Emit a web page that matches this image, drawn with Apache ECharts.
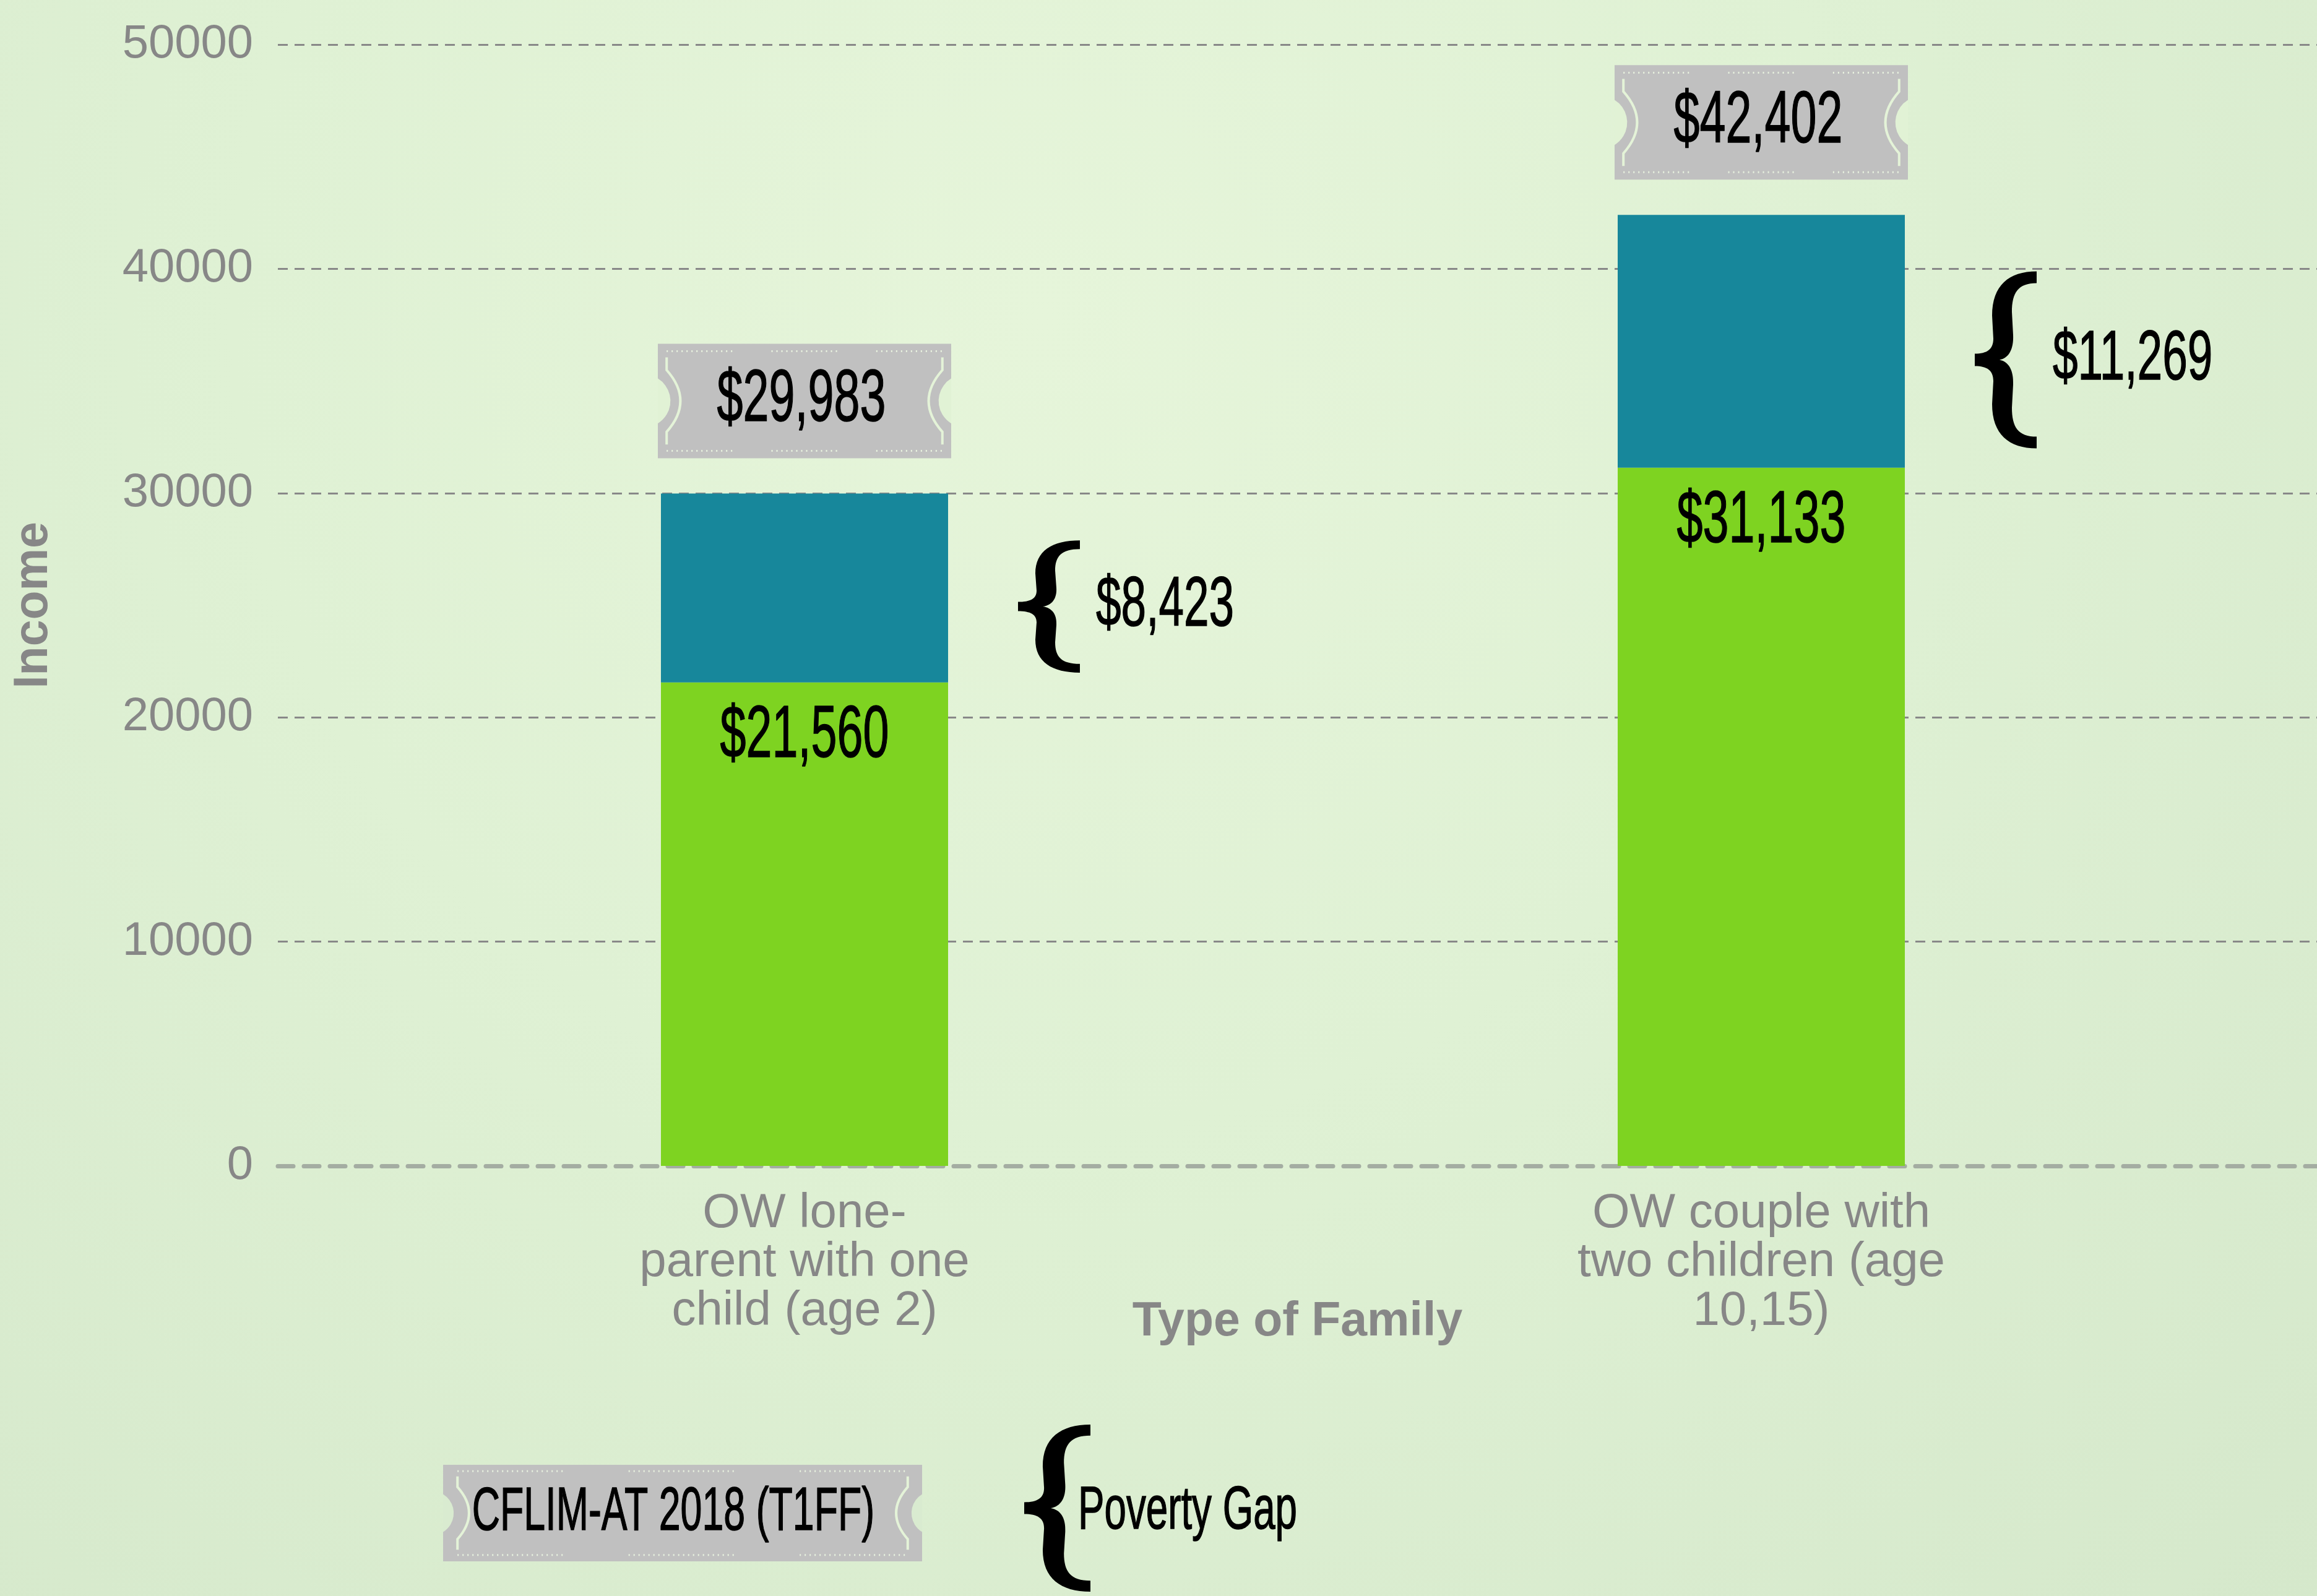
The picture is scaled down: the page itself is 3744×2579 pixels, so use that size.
<!DOCTYPE html>
<html>
<head>
<meta charset="utf-8">
<title>Income by Type of Family</title>
<script src="https://cdn.jsdelivr.net/npm/echarts@6/dist/echarts.min.js"></script>
<style>
    html, body { margin: 0; padding: 0; }
    body {
        background: radial-gradient(ellipse at 45% 20%, #e6f5da 0%, #dff1d4 45%, #d5e8cb 100%);
    }
    #chart { width: 3744px; height: 2579px; }
</style>
</head>
<body>
<div id="chart"></div>
<script>
// data
const categories = ['OW lone-\nparent with one\nchild (age 2)', 'OW couple with\ntwo children (age\n10,15)'];
const cflimIncome = [21560, 31133];
const povertyGap = [8423, 11269];
const threshold = [29983, 42402];
const incomeMin = 0;
const incomeMax = 50000;
const incomeStep = 10000;

const GREEN = '#7ed321';
const TEAL = '#17879b';
const GREY_TEXT = '#878787';
const FONT = '"Liberation Sans", Arial, sans-serif';
const BAR_W = 464;
// curly brace "{" drawn in a 100x100 box
const BRACE_PATH = 'M100 0C55 0 28 8 28 25L30 38C30 44 20 46.5 0 46.5L0 53.5C20 53.5 30 56 30 62L28 75C28 92 55 100 100 100' +
    'L100 93.4C70 93.4 60 88 60 77L62 64C63 56 55 51 40 50C55 49 63 44 62 36L60 23C60 12 70 6.6 100 6.6Z';

const money = v => '$' + v.toLocaleString('en-US');

// narrow black text: regular face squeezed horizontally, thickened a little with a stroke
function narrowText(x, y, text, fontSize, align, squeeze) {
    return {
        type: 'text', x: x, y: y, scaleX: squeeze,
        style: {
            text: text, fill: '#000', stroke: '#000', lineWidth: 1.5,
            fontSize: fontSize, fontFamily: FONT, align: align, verticalAlign: 'middle'
        }
    };
}

// grey ticket with side notches, light arcs and dotted edges
function ticket(cx, cy, w, h, text, fontSize, notchColor, textDx) {
    const x0 = cx - w / 2, y0 = cy - h / 2, x1 = x0 + w;
    const r = h * 0.23, off = h * 0.12;
    const dy = Math.sqrt(r * r - off * off);
    const inset = w * 0.03, bulge = h * 0.12;
    const els = [
        { type: 'rect', shape: { x: x0, y: y0, width: w, height: h }, style: { fill: '#c0c0c0' } },
        { type: 'path', shape: { pathData: `M${x0} ${cy - dy}A${r} ${r} 0 0 1 ${x0} ${cy + dy}Z` }, style: { fill: notchColor } },
        { type: 'path', shape: { pathData: `M${x1} ${cy - dy}A${r} ${r} 0 0 0 ${x1} ${cy + dy}Z` }, style: { fill: notchColor } }
    ];
    [[x0 + inset, 1], [x1 - inset, -1]].forEach(([lx, s]) => {
        els.push({
            type: 'path',
            shape: { pathData: `M${lx} ${y0 + h * 0.12}L${lx} ${y0 + h * 0.23}Q${lx + s * bulge * 2} ${cy} ${lx} ${y0 + h * 0.77}L${lx} ${y0 + h * 0.88}` },
            style: { fill: null, stroke: '#e4f3d8', lineWidth: 4 }
        });
    });
    const inner = w - 2 * inset, gw = inner * 0.24;
    [x0 + inset, x0 + inset + (inner - gw) / 2, x0 + inset + inner - gw].forEach(gx => {
        [y0 + h * 0.065, y0 + h * 0.935].forEach(gy => {
            els.push({
                type: 'line',
                shape: { x1: gx, y1: gy, x2: gx + gw, y2: gy },
                style: { stroke: '#e8f2df', lineWidth: 3, lineDash: [2, 6] }
            });
        });
    });
    els.push(narrowText(cx + textDx, cy, text, fontSize, 'center', 0.64));
    return { type: 'group', children: els };
}

function brace(x, y, w, h) {
    return {
        type: 'path', x: x, y: y, scaleX: w / 100, scaleY: h / 100,
        shape: { pathData: BRACE_PATH }, style: { fill: '#000' }
    };
}

const myChart = echarts.init(document.getElementById('chart'));

const option = {
    backgroundColor: 'transparent',
    animation: false,
    grid: [
        { left: 449, right: 0, top: 72, bottom: 695, containLabel: false, outerBoundsMode: 'none' },
        { left: 527, right: 125, top: 72, bottom: 695, containLabel: false, outerBoundsMode: 'none' }
    ],
    xAxis: [
        {
            gridIndex: 0,
            type: 'value',
            min: 0,
            max: 1,
            name: 'Type of Family',
            nameLocation: 'middle',
            nameGap: 214,
            nameTextStyle: { color: GREY_TEXT, fontSize: 77, fontWeight: 'bold', fontFamily: FONT },
            axisLine: { show: true, lineStyle: { color: '#a4ada2', width: 7, type: [25, 17] } },
            axisTick: { show: false },
            axisLabel: { show: false },
            splitLine: { show: false }
        },
        {
            gridIndex: 1,
            type: 'category',
            data: categories,
            axisLine: { show: false },
            axisTick: { show: false },
            axisLabel: { color: GREY_TEXT, fontSize: 78, lineHeight: 79, fontFamily: FONT, margin: 38, interval: 0 },
            splitLine: { show: false }
        }
    ],
    yAxis: [
        {
            gridIndex: 0,
            type: 'value',
            min: incomeMin,
            max: incomeMax,
            interval: incomeStep,
            name: 'Income',
            nameLocation: 'middle',
            nameGap: 356,
            nameTextStyle: { color: GREY_TEXT, fontSize: 77, fontWeight: 'bold', fontFamily: FONT },
            axisLine: { show: false },
            axisTick: { show: false },
            axisLabel: { color: GREY_TEXT, fontSize: 76, fontFamily: FONT, margin: 40, formatter: v => String(v) },
            splitLine: { show: true, showMinLine: false, lineStyle: { color: '#888888', width: 3, type: [16, 11] } }
        },
        {
            gridIndex: 1,
            type: 'value',
            min: incomeMin,
            max: incomeMax,
            interval: incomeStep,
            show: false,
            splitLine: { show: false }
        }
    ],
    series: [
        {
            name: 'CFLIM-AT 2018 (T1FF)',
            type: 'bar',
            xAxisIndex: 1,
            yAxisIndex: 1,
            stack: 'income',
            barWidth: BAR_W,
            itemStyle: { color: GREEN },
            data: cflimIncome
        },
        {
            name: 'Poverty Gap',
            type: 'bar',
            xAxisIndex: 1,
            yAxisIndex: 1,
            stack: 'income',
            barWidth: BAR_W,
            itemStyle: { color: TEAL },
            data: povertyGap
        },
        {
            // tickets, value labels and braces
            type: 'custom',
            xAxisIndex: 1,
            yAxisIndex: 1,
            clip: false,
            silent: true,
            z: 5,
            encode: { x: 0, y: 3 },
            data: categories.map((c, i) => [i, cflimIncome[i], povertyGap[i], threshold[i]]),
            renderItem: function (params, api) {
                const i = api.value(0);
                const top = api.coord([i, api.value(3)]);
                const mid = api.coord([i, api.value(1)]);
                const cx = top[0];
                const segH = mid[1] - top[1];
                const bh = segH * 0.7;
                const bcy = (top[1] + mid[1]) / 2 + 30;
                const bx = cx + 345;
                return {
                    type: 'group',
                    children: [
                        ticket(cx, top[1] - 57 - 92.5, 474, 185, money(api.value(3)), 118, '#e1f2d5', -5),
                        narrowText(cx, mid[1] + 88, money(api.value(1)), 118, 'center', 0.64),
                        brace(bx, bcy - bh / 2, 100, bh),
                        narrowText(bx + 126, bcy, money(api.value(2)), 114, 'left', 0.64)
                    ]
                };
            }
        },
        {
            // legend: ticket = CFLIM-AT line, brace = poverty gap
            type: 'custom',
            xAxisIndex: 1,
            yAxisIndex: 1,
            clip: false,
            silent: true,
            data: [[0, 0]],
            renderItem: function () {
                return {
                    type: 'group',
                    children: [
                        ticket(1103, 2445, 774, 156, 'CFLIM-AT 2018 (T1FF)', 98, '#d9ebd0', -15),
                        brace(1655, 2302, 107, 270),
                        narrowText(1742, 2443, 'Poverty Gap', 98, 'left', 0.65)
                    ]
                };
            }
        }
    ]
};

myChart.setOption(option);
</script>
</body>
</html>
